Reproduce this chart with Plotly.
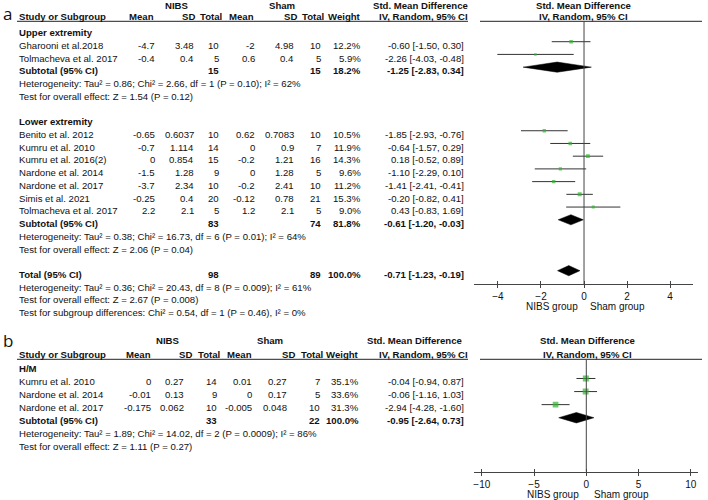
import numpy as np
import plotly.graph_objects as go

# ---------------- panel a: upper / lower extremity ----------------
upper_study = ["Gharooni et al.2018", "Tolmacheva et al. 2017"]
upper_nibs_mean = [-4.7, -0.4]
upper_nibs_sd = [3.48, 0.4]
upper_nibs_n = [10, 5]
upper_sham_mean = [-2, 0.6]
upper_sham_sd = [4.98, 0.4]
upper_sham_n = [10, 5]
upper_weight = [12.2, 5.9]
upper_smd = [-0.60, -2.26]
upper_lo = [-1.50, -4.03]
upper_hi = [0.30, -0.48]
upper_total = [15, 15, 18.2, -1.25, -2.83, 0.34]
upper_het = "Heterogeneity: Tau² = 0.86; Chi² = 2.66, df = 1 (P = 0.10); I² = 62%"
upper_test = "Test for overall effect: Z = 1.54 (P = 0.12)"

lower_study = ["Benito et al. 2012", "Kumru et al. 2010", "Kumru et al. 2016(2)",
               "Nardone et al. 2014", "Nardone et al. 2017", "Simis et al. 2021",
               "Tolmacheva et al. 2017"]
lower_nibs_mean = [-0.65, -0.7, 0, -1.5, -3.7, -0.25, 2.2]
lower_nibs_sd = [0.6037, 1.114, 0.854, 1.28, 2.34, 0.4, 2.1]
lower_nibs_n = [10, 14, 15, 9, 10, 20, 5]
lower_sham_mean = [0.62, 0, -0.2, 0, -0.2, -0.12, 1.2]
lower_sham_sd = [0.7083, 0.9, 1.21, 1.28, 2.41, 0.78, 2.1]
lower_sham_n = [10, 7, 16, 5, 10, 21, 5]
lower_weight = [10.5, 11.9, 14.3, 9.6, 11.2, 15.3, 9.0]
lower_smd = [-1.85, -0.64, 0.18, -1.10, -1.41, -0.20, 0.43]
lower_lo = [-2.93, -1.57, -0.52, -2.29, -2.41, -0.82, -0.83]
lower_hi = [-0.76, 0.29, 0.89, 0.10, -0.41, 0.41, 1.69]
lower_total = [83, 74, 81.8, -0.61, -1.20, -0.03]
lower_het = "Heterogeneity: Tau² = 0.38; Chi² = 16.73, df = 6 (P = 0.01); I² = 64%"
lower_test = "Test for overall effect: Z = 2.06 (P = 0.04)"

overall_total = [98, 89, 100.0, -0.71, -1.23, -0.19]
overall_het = "Heterogeneity: Tau² = 0.36; Chi² = 20.43, df = 8 (P = 0.009); I² = 61%"
overall_test = "Test for overall effect: Z = 2.67 (P = 0.008)"
subgroup_test = "Test for subgroup differences: Chi² = 0.54, df = 1 (P = 0.46), I² = 0%"
ticks_a = [-4, -2, 0, 2, 4]

# ---------------- panel b: H/M ----------------
hm_study = ["Kumru et al. 2010", "Nardone et al. 2014", "Nardone et al. 2017"]
hm_nibs_mean = [0, -0.01, -0.175]
hm_nibs_sd = [0.27, 0.13, 0.062]
hm_nibs_n = [14, 9, 10]
hm_sham_mean = [0.01, 0, -0.005]
hm_sham_sd = [0.27, 0.17, 0.048]
hm_sham_n = [7, 5, 10]
hm_weight = [35.1, 33.6, 31.3]
hm_smd = [-0.04, -0.06, -2.94]
hm_lo = [-0.94, -1.16, -4.28]
hm_hi = [0.87, 1.03, -1.60]
hm_total = [33, 22, 100.0, -0.95, -2.64, 0.73]
hm_het = "Heterogeneity: Tau² = 1.89; Chi² = 14.02, df = 2 (P = 0.0009); I² = 86%"
hm_test = "Test for overall effect: Z = 1.11 (P = 0.27)"
ticks_b = [-10, -5, 0, 5, 10]

# ---------------- layout helpers (pixels of the 708x500 page) ----------------
FW, FH = 708, 500
FONT = "Liberation Sans"
FS = 9.6
GREEN = "#2fb52f"
INK = "#111111"


def px(x):
    return x / FW


def py(y):
    return 1 - y / FH


def fmt(v):
    return f"{v:g}"


def ci(s, l, h):
    return f"{s:.2f} [{l:.2f}, {h:.2f}]"


annotations = []
shapes = []


def text(x, y, s, anchor="right", bold=False, size=FS):
    if bold:
        s = "<b>" + s + "</b>"
    annotations.append(dict(x=px(x), y=py(y), xref="paper", yref="paper", text=s,
                            showarrow=False, xanchor=anchor, yanchor="middle",
                            font=dict(family=FONT, size=size, color=INK)))


def panel(rows, cols, y0, step, toff):
    for k, kind, p in rows:
        y = y0 + (k + toff) * step
        if kind in ("group", "note"):
            text(cols["label"], y, p, "left", kind == "group")
        elif kind == "study":
            text(cols["label"], y, p[0], "left")
            for key, v in zip(["nm", "nsd", "nn", "sm", "ssd", "sn"], p[1:7]):
                text(cols[key], y, fmt(v))
            text(cols["w"], y, f"{p[7]:.1f}%")
            text(cols["ci"], y, ci(p[8], p[9], p[10]))
        elif kind == "sub":
            label, t = p
            text(cols["label"], y, label, "left", True)
            text(cols["nn"], y, fmt(t[0]), bold=True)
            text(cols["sn"], y, fmt(t[1]), bold=True)
            text(cols["w"], y, f"{t[2]:.1f}%", bold=True)
            text(cols["ci"], y, ci(t[3], t[4], t[5]), bold=True)


def header(ytop, yhead, yline, c):
    text(c["nibs"], ytop, "NIBS", "center", True)
    text(c["sham"], ytop, "Sham", "center", True)
    text(c["smd1"], ytop, "Std. Mean Difference", "center", True)
    text(c["smd2"], ytop, "Std. Mean Difference", "center", True)
    text(17, yhead, "Study or Subgroup", "left", True)
    for key, lab in [("hm", "Mean"), ("hsd", "SD"), ("hn", "Total"), ("hsm", "Mean"),
                     ("hssd", "SD"), ("hsn", "Total"), ("hw", "Weight")]:
        text(c[key], yhead, lab, "right", True)
    text(c["iv1"], yhead, "IV, Random, 95% CI", "center", True)
    text(c["smd2"], yhead, "IV, Random, 95% CI", "center", True)
    for x0, x1 in [(17, 468), (480, 702)]:
        shapes.append(dict(type="line", xref="paper", yref="paper", x0=px(x0), x1=px(x1),
                           y0=py(yline), y1=py(yline), line=dict(color="#222", width=1)))


# row geometry (page pixels)
A0, ASTEP = 41.7, 12.72      # panel a: first study row, row pitch
B0, BSTEP = 378.5, 13.07     # panel b
A_TOP, A_AXIS = 21.3, 284.0
B_TOP, B_AXIS = 359.3, 471.7
A_X = (474.3, 693.3)
B_X = (474.3, 698.3)

cols_a = dict(label=17, nm=157, nsd=196, nn=221, sm=257, ssd=296, sn=323, w=363, ci=466)
cols_b = dict(label=17, nm=153, nsd=186, nn=219, sm=254, ssd=289, sn=322, w=361, ci=466)
head_a = dict(nibs=177, sham=282, smd1=420, smd2=583, iv1=423,
              hm=156, hsd=197, hn=224, hsm=256, hssd=299, hsn=326, hw=363)
head_b = dict(nibs=168, sham=270, smd1=414, smd2=587, iv1=423,
              hm=153, hsd=194, hn=222, hsm=254, hssd=297, hsn=325, hw=361)


def study_rows(start, *cols):
    return [(start + i, "study", r) for i, r in enumerate(zip(*cols))]


rows_a = [(-1, "group", "Upper extremity")]
rows_a += study_rows(0, upper_study, upper_nibs_mean, upper_nibs_sd, upper_nibs_n,
                     upper_sham_mean, upper_sham_sd, upper_sham_n, upper_weight,
                     upper_smd, upper_lo, upper_hi)
rows_a += [(2, "sub", ("Subtotal (95% CI)", upper_total)), (3, "note", upper_het),
           (4, "note", upper_test), (6, "group", "Lower extremity")]
rows_a += study_rows(7, lower_study, lower_nibs_mean, lower_nibs_sd, lower_nibs_n,
                     lower_sham_mean, lower_sham_sd, lower_sham_n, lower_weight,
                     lower_smd, lower_lo, lower_hi)
rows_a += [(14, "sub", ("Subtotal (95% CI)", lower_total)), (15, "note", lower_het),
           (16, "note", lower_test), (18, "sub", ("Total (95% CI)", overall_total)),
           (19, "note", overall_het), (20, "note", overall_test),
           (21, "note", subgroup_test)]

rows_b = [(-1, "group", "H/M")]
rows_b += study_rows(0, hm_study, hm_nibs_mean, hm_nibs_sd, hm_nibs_n, hm_sham_mean,
                     hm_sham_sd, hm_sham_n, hm_weight, hm_smd, hm_lo, hm_hi)
rows_b += [(3, "sub", ("Subtotal (95% CI)", hm_total)), (4, "note", hm_het),
           (5, "note", hm_test)]

panel(rows_a, cols_a, A0, ASTEP, 0.3)
panel(rows_b, cols_b, B0, BSTEP, 0.23)
header(5.5, 16.3, A_TOP, head_a)
header(340.7, 354.0, B_TOP, head_b)

for lab, ypix in [("a", 13), ("b", 340)]:
    annotations.append(dict(x=px(1), y=py(ypix), xref="paper", yref="paper", text=lab,
                            showarrow=False, xanchor="left", yanchor="middle",
                            font=dict(family="Open Sans", size=17, color=INK)))
for ypix, xl, xr in [(306, 580, 588), (494.5, 581, 592)]:
    text(xl, ypix, "NIBS group", "right", size=10)
    text(xr, ypix, "Sham group", "left", size=10)

# ---------------- forest marks ----------------
fig = go.Figure()


def forest(xa, ya, rows, subs):
    studies = [(k, r) for k, kind, r in rows if kind == "study"]
    lx, ly = [], []
    for k, r in studies:
        lx += [r[9], r[10], None]
        ly += [k, k, None]
    fig.add_trace(go.Scatter(x=lx, y=ly, xaxis=xa, yaxis=ya, mode="lines",
                             line=dict(color="#333", width=1), hoverinfo="skip"))
    fig.add_trace(go.Scatter(x=[r[8] for k, r in studies], y=[k for k, r in studies],
                             xaxis=xa, yaxis=ya, mode="markers",
                             marker=dict(symbol="square", color=GREEN,
                                         size=[1.02 * np.sqrt(r[7]) for k, r in studies],
                                         line=dict(width=0))))
    for k, t in subs:
        h = 0.4
        fig.add_trace(go.Scatter(x=[t[4], t[3], t[5], t[3], t[4]],
                                 y=[k, k - h, k, k + h, k], xaxis=xa, yaxis=ya,
                                 mode="lines", fill="toself", fillcolor="black",
                                 line=dict(color="black", width=0.5)))


forest("x", "y", rows_a, [(2, upper_total), (14, lower_total), (18, overall_total)])
forest("x2", "y2", rows_b, [(3, hm_total)])
fig.add_trace(go.Scatter(x=[None], y=[None], xaxis="x3", yaxis="y"))
fig.add_trace(go.Scatter(x=[None], y=[None], xaxis="x4", yaxis="y2"))

for xa, ya in [("x", "y"), ("x2", "y2")]:
    shapes.append(dict(type="line", xref=xa, yref=ya + " domain", x0=0, x1=0, y0=0, y1=1,
                       line=dict(color="#444", width=1)))

axis_common = dict(showgrid=False, zeroline=False, showline=True, linecolor="#444",
                   linewidth=1, ticks="outside", ticklen=3, tickcolor="#444",
                   tickfont=dict(family=FONT, size=10, color=INK))
inner_common = dict(showgrid=False, zeroline=False, showline=False, ticks="inside",
                    ticklen=3, tickcolor="#444", showticklabels=False)

fig.update_layout(
    width=FW, height=FH, margin=dict(l=0, r=0, t=0, b=0),
    paper_bgcolor="white", plot_bgcolor="rgba(0,0,0,0)", showlegend=False,
    xaxis=dict(domain=[px(A_X[0]), px(A_X[1])], range=[-5.1, 5.08], tickvals=ticks_a,
               anchor="y", **axis_common),
    xaxis3=dict(domain=[px(A_X[0]), px(A_X[1])], range=[-5.1, 5.08], tickvals=ticks_a,
                anchor="y", overlaying="x", **inner_common),
    yaxis=dict(domain=[py(A_AXIS), py(A_TOP)], visible=False, anchor="x",
               range=[(A_AXIS - A0) / ASTEP, (A_TOP - A0) / ASTEP]),
    xaxis2=dict(domain=[px(B_X[0]), px(B_X[1])], range=[-10.72, 10.72], tickvals=ticks_b,
                anchor="y2", **axis_common),
    xaxis4=dict(domain=[px(B_X[0]), px(B_X[1])], range=[-10.72, 10.72], tickvals=ticks_b,
                anchor="y2", overlaying="x2", **inner_common),
    yaxis2=dict(domain=[py(B_AXIS), py(B_TOP)], visible=False, anchor="x2",
                range=[(B_AXIS - B0) / BSTEP, (B_TOP - B0) / BSTEP]),
    annotations=annotations, shapes=shapes,
)

# drop the page's default body margin so the 708x500 figure fills the window
fig.write_html("out.html", config={"displayModeBar": False},
               post_script="document.body.style.margin = '0px';")
